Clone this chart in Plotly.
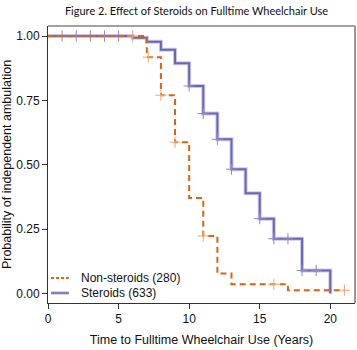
import plotly.graph_objects as go

# ---- data ----
non_t = [0, 7, 8, 9, 10, 11, 12, 13, 17, 21]
non_s = [1.0, 0.918, 0.770, 0.588, 0.371, 0.224, 0.078, 0.036, 0.013, 0.013]
non_cens_t = [6, 7.1, 8, 9, 11, 16, 21]

ster_t = [0, 6, 7, 8, 9, 10, 11, 12, 13, 14, 15, 16, 18, 20]
ster_s = [1.0, 0.993, 0.978, 0.947, 0.894, 0.806, 0.699, 0.599, 0.483, 0.390, 0.291, 0.213, 0.090, 0.0]
ster_cens_t = [1, 2, 3, 4, 5, 10, 11, 12, 13, 15, 16, 17, 18, 19]

x_ticks = [0, 5, 10, 15, 20]
y_ticks = [0, 0.25, 0.5, 0.75, 1.0]
y_tick_text = ["0.00", "0.25", "0.50", "0.75", "1.00"]
legend_labels = ["Non-steroids (280)", "Steroids (633)"]


def step_val(ts, ss, t):
    v = ss[0]
    for ti, si in zip(ts, ss):
        if ti <= t:
            v = si
    return v


ORANGE = "#e0620f"
ORANGE_L = "#f0a878"
PURPLE = "#6a66b4"
PURPLE_L = "#cac8ea"

fig = go.Figure()

# steroids halo + line
fig.add_trace(go.Scatter(x=ster_t, y=ster_s, mode="lines", line_shape="hv",
                         line=dict(color=PURPLE_L, width=4), showlegend=False,
                         hoverinfo="skip"))
fig.add_trace(go.Scatter(x=ster_t, y=ster_s, mode="lines", line_shape="hv",
                         line=dict(color=PURPLE, width=2), showlegend=False))
fig.add_trace(go.Scatter(x=ster_cens_t, y=[step_val(ster_t, ster_s, t) for t in ster_cens_t],
                         mode="markers", marker=dict(symbol="cross-thin", size=8,
                         line=dict(color="#8e8ac6", width=1)), showlegend=False))

# non-steroids
fig.add_trace(go.Scatter(x=non_t, y=non_s, mode="lines", line_shape="hv",
                         line=dict(color=ORANGE, width=2, dash="6px,4px"), showlegend=False))
fig.add_trace(go.Scatter(x=non_cens_t, y=[step_val(non_t, non_s, t) for t in non_cens_t],
                         mode="markers", marker=dict(symbol="cross-thin", size=8,
                         line=dict(color=ORANGE_L, width=1)), showlegend=False))

# plot area pixel geometry
L, R, T, B = 45, 355, 26, 303
W, H = 357, 350


def px(x):
    return (x - L) / (R - L)


def py(y):
    return (B - y) / (B - T)


shapes = [
    # frame top/right
    dict(type="line", xref="paper", yref="paper", x0=0, x1=1, y0=1, y1=1,
         line=dict(color="#444444", width=1)),
    dict(type="line", xref="paper", yref="paper", x0=1, x1=1, y0=0, y1=1,
         line=dict(color="#999999", width=2)),
    # legend samples
    dict(type="line", xref="paper", yref="paper", x0=px(48), x1=px(66), y0=py(278), y1=py(278),
         line=dict(color=ORANGE, width=2, dash="3px,2px")),
    dict(type="line", xref="paper", yref="paper", x0=px(48), x1=px(66), y0=py(293), y1=py(293),
         line=dict(color=PURPLE_L, width=3.5)),
    dict(type="line", xref="paper", yref="paper", x0=px(48), x1=px(66), y0=py(293), y1=py(293),
         line=dict(color=PURPLE, width=1.5)),
]
annotations = [
    dict(text=legend_labels[0], xref="paper", yref="paper", x=px(76), y=py(278),
         xanchor="left", yanchor="middle", showarrow=False,
         font=dict(family="Liberation Sans", size=12, color="#111")),
    dict(text=legend_labels[1], xref="paper", yref="paper", x=px(76), y=py(293),
         xanchor="left", yanchor="middle", showarrow=False,
         font=dict(family="Liberation Sans", size=12, color="#111")),
]

fig.update_layout(
    width=W, height=H,
    margin=dict(l=L, r=W - R, t=T, b=H - B),
    paper_bgcolor="white", plot_bgcolor="white",
    title=dict(text="Figure 2. Effect of Steroids on Fulltime Wheelchair Use",
               x=196.5 / W, xanchor="center", y=1 - 11 / H, yanchor="middle",
               font=dict(family="Lato", size=11, color="#111")),
    font=dict(family="Liberation Sans", size=12, color="#111"),
    shapes=shapes, annotations=annotations,
    showlegend=False,
)
fig.update_xaxes(range=[0, 21.75], tickvals=x_ticks, ticks="outside", ticklen=5,
                 tickcolor="#333", showline=True, linecolor="#333", linewidth=1,
                 showgrid=False, zeroline=False,
                 title=dict(text="Time to Fulltime Wheelchair Use (Years)", standoff=9,
                            font=dict(family="Liberation Sans", size=12.5)),
                 tickfont=dict(size=12))
fig.update_yaxes(range=[-0.0365, 1.039], tickvals=y_ticks, ticktext=y_tick_text,
                 ticks="outside", ticklen=5, tickcolor="#333", showline=True,
                 linecolor="#333", linewidth=1, showgrid=False, zeroline=False,
                 title=dict(text="Probability of independent ambulation", standoff=5,
                            font=dict(family="Liberation Sans", size=12.5)),
                 tickfont=dict(size=12))

fig.write_html("out.html")
